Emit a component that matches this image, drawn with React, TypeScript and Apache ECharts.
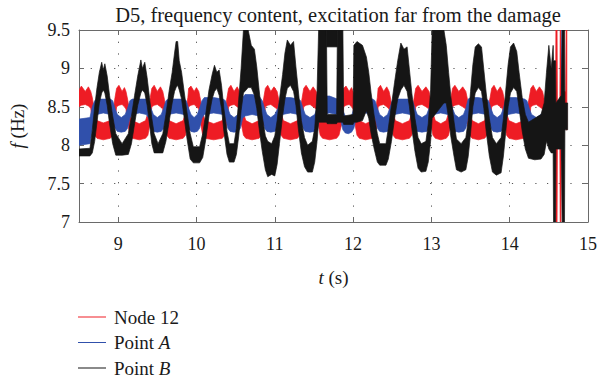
import React, { useEffect, useRef } from "react";
import * as echarts from "echarts";

const TITLE = "D5, frequency content, excitation far from the damage";
const X_MIN = 8.5;
const X_MAX = 15;
const Y_MIN = 7;
const Y_MAX = 9.5;
const Y_TICK = 0.5;

// Envelopes: [t (s), lower f (Hz), upper f (Hz)]
const node12: number[][] = [
  [8.5, 8.5, 8.72], [8.53, 8.52, 8.77], [8.58, 8.53, 8.7], [8.62, 8.51, 8.76], [8.65, 8.48, 8.7],
  [8.67, 8.3, 8.62], [8.7, 8.13, 8.42], [8.73, 8.09, 8.32], [8.81, 8.07, 8.29], [8.9, 8.09, 8.32],
  [8.93, 8.13, 8.42], [8.96, 8.3, 8.62],
  [8.98, 8.5, 8.74], [9.01, 8.52, 8.78], [9.05, 8.53, 8.7], [9.08, 8.5, 8.75], [9.1, 8.47, 8.7],
  [9.12, 8.3, 8.6], [9.15, 8.13, 8.42], [9.18, 8.09, 8.32], [9.27, 8.07, 8.28], [9.35, 8.09, 8.32],
  [9.38, 8.13, 8.42], [9.41, 8.3, 8.62],
  [9.43, 8.5, 8.74], [9.46, 8.52, 8.78], [9.5, 8.53, 8.7], [9.54, 8.5, 8.76], [9.57, 8.47, 8.7],
  [9.59, 8.3, 8.6], [9.62, 8.13, 8.42], [9.65, 8.09, 8.32], [9.74, 8.07, 8.28], [9.83, 8.09, 8.32],
  [9.86, 8.13, 8.42], [9.89, 8.3, 8.62],
  [9.9, 8.5, 8.74], [9.93, 8.52, 8.77], [9.97, 8.53, 8.7], [10.0, 8.5, 8.75], [10.03, 8.47, 8.7],
  [10.05, 8.3, 8.6], [10.08, 8.13, 8.42], [10.11, 8.09, 8.32], [10.22, 8.07, 8.28], [10.33, 8.09, 8.32],
  [10.36, 8.13, 8.42], [10.39, 8.3, 8.62],
  [10.41, 8.5, 8.74], [10.44, 8.52, 8.78], [10.48, 8.53, 8.7], [10.52, 8.5, 8.76], [10.55, 8.47, 8.7],
  [10.57, 8.3, 8.6], [10.6, 8.13, 8.42], [10.63, 8.09, 8.32], [10.71, 8.07, 8.28], [10.8, 8.09, 8.32],
  [10.83, 8.13, 8.42], [10.86, 8.3, 8.62],
  [10.88, 8.5, 8.74], [10.91, 8.52, 8.78], [10.95, 8.53, 8.7], [10.99, 8.5, 8.76], [11.03, 8.47, 8.7],
  [11.05, 8.3, 8.6], [11.08, 8.13, 8.42], [11.11, 8.09, 8.32], [11.2, 8.07, 8.28], [11.29, 8.09, 8.32],
  [11.32, 8.13, 8.42], [11.35, 8.3, 8.62],
  [11.37, 8.5, 8.74], [11.4, 8.52, 8.78], [11.45, 8.53, 8.7], [11.49, 8.5, 8.76], [11.53, 8.47, 8.7],
  [11.55, 8.3, 8.6], [11.58, 8.13, 8.42], [11.61, 8.09, 8.32], [11.7, 8.07, 8.28], [11.79, 8.09, 8.32],
  [11.82, 8.13, 8.42], [11.86, 8.3, 8.62],
  [11.88, 8.5, 8.74], [11.91, 8.52, 8.77], [11.95, 8.53, 8.7], [11.98, 8.5, 8.75], [12.0, 8.47, 8.7],
  [12.02, 8.3, 8.6], [12.05, 8.13, 8.42], [12.08, 8.09, 8.32], [12.16, 8.07, 8.28], [12.25, 8.09, 8.32],
  [12.28, 8.13, 8.42], [12.31, 8.3, 8.62],
  [12.32, 8.5, 8.74], [12.35, 8.52, 8.78], [12.39, 8.53, 8.7], [12.43, 8.5, 8.76], [12.46, 8.47, 8.7],
  [12.48, 8.3, 8.6], [12.51, 8.13, 8.42], [12.54, 8.09, 8.32], [12.63, 8.07, 8.28], [12.72, 8.09, 8.32],
  [12.75, 8.13, 8.42], [12.78, 8.3, 8.62],
  [12.8, 8.5, 8.74], [12.83, 8.52, 8.78], [12.88, 8.53, 8.7], [12.93, 8.5, 8.76], [12.97, 8.47, 8.7],
  [12.99, 8.3, 8.6], [13.02, 8.13, 8.42], [13.05, 8.09, 8.32], [13.12, 8.07, 8.28], [13.19, 8.09, 8.32],
  [13.22, 8.13, 8.42], [13.25, 8.3, 8.62],
  [13.27, 8.5, 8.74], [13.3, 8.52, 8.78], [13.35, 8.53, 8.7], [13.4, 8.5, 8.76], [13.44, 8.47, 8.7],
  [13.46, 8.3, 8.6], [13.49, 8.13, 8.42], [13.52, 8.09, 8.32], [13.6, 8.07, 8.28], [13.68, 8.09, 8.32],
  [13.71, 8.13, 8.42], [13.75, 8.3, 8.62],
  [13.77, 8.5, 8.74], [13.8, 8.52, 8.78], [13.84, 8.53, 8.7], [13.88, 8.5, 8.76], [13.91, 8.47, 8.7],
  [13.93, 8.3, 8.6], [13.96, 8.13, 8.42], [13.99, 8.09, 8.32], [14.08, 8.07, 8.28], [14.18, 8.09, 8.32],
  [14.21, 8.13, 8.42], [14.25, 8.3, 8.62],
  [14.27, 8.5, 8.74], [14.3, 8.52, 8.78], [14.34, 8.53, 8.7], [14.38, 8.5, 8.76], [14.42, 8.47, 8.7],
  [14.44, 8.3, 8.6], [14.47, 8.15, 8.4], [14.5, 8.15, 8.32], [14.56, 8.15, 8.35],
  [14.585, 8.15, 8.4], [14.59, 7.0, 9.5], [14.605, 7.0, 9.5], [14.61, 8.1, 8.5], [14.64, 8.1, 8.5],
  [14.645, 7.0, 9.5], [14.655, 7.0, 9.5], [14.66, 8.3, 8.7], [14.715, 8.3, 8.7], [14.72, 8.2, 9.5],
  [14.73, 8.2, 9.5],
];

const pointA: number[][] = [
  [8.5, 8.0, 8.34], [8.64, 8.02, 8.36], [8.67, 8.2, 8.5], [8.7, 8.35, 8.58], [8.73, 8.4, 8.6],
  [8.81, 8.42, 8.6], [8.9, 8.4, 8.6], [8.93, 8.35, 8.58], [8.96, 8.22, 8.48], [8.99, 8.18, 8.4],
  [9.04, 8.17, 8.36], [9.09, 8.18, 8.4], [9.12, 8.22, 8.48], [9.15, 8.35, 8.58], [9.18, 8.4, 8.6],
  [9.27, 8.42, 8.6], [9.36, 8.4, 8.6], [9.39, 8.35, 8.58], [9.42, 8.22, 8.48], [9.45, 8.18, 8.4],
  [9.5, 8.17, 8.36], [9.55, 8.18, 8.4], [9.58, 8.22, 8.48], [9.61, 8.35, 8.58], [9.64, 8.4, 8.6],
  [9.74, 8.42, 8.6], [9.84, 8.4, 8.6], [9.87, 8.35, 8.58], [9.9, 8.22, 8.48], [9.93, 8.18, 8.4],
  [9.97, 8.17, 8.36], [10.01, 8.18, 8.4], [10.04, 8.22, 8.48], [10.07, 8.35, 8.58], [10.1, 8.4, 8.62],
  [10.22, 8.42, 8.62], [10.34, 8.4, 8.6], [10.37, 8.35, 8.58], [10.4, 8.22, 8.48], [10.43, 8.18, 8.4],
  [10.48, 8.17, 8.36], [10.53, 8.18, 8.4], [10.56, 8.22, 8.48], [10.59, 8.35, 8.62], [10.62, 8.38, 8.66],
  [10.71, 8.4, 8.66], [10.8, 8.38, 8.64], [10.84, 8.35, 8.58], [10.87, 8.22, 8.48], [10.9, 8.18, 8.4],
  [10.95, 8.17, 8.36], [11.0, 8.18, 8.4], [11.04, 8.22, 8.48], [11.07, 8.35, 8.6], [11.1, 8.4, 8.62],
  [11.2, 8.42, 8.62], [11.3, 8.4, 8.6], [11.33, 8.35, 8.58], [11.36, 8.22, 8.48], [11.39, 8.18, 8.4],
  [11.45, 8.17, 8.36], [11.51, 8.18, 8.4], [11.54, 8.22, 8.48], [11.57, 8.35, 8.6], [11.6, 8.4, 8.64],
  [11.7, 8.42, 8.64], [11.8, 8.4, 8.6], [11.84, 8.33, 8.55], [11.87, 8.2, 8.45], [11.9, 8.16, 8.38],
  [11.94, 8.15, 8.34], [11.98, 8.17, 8.38], [12.01, 8.22, 8.48], [12.04, 8.35, 8.6], [12.07, 8.4, 8.62],
  [12.16, 8.42, 8.62], [12.25, 8.4, 8.6], [12.28, 8.35, 8.58], [12.31, 8.22, 8.48], [12.34, 8.18, 8.4],
  [12.39, 8.17, 8.36], [12.44, 8.18, 8.4], [12.47, 8.22, 8.48], [12.5, 8.35, 8.58], [12.53, 8.4, 8.6],
  [12.63, 8.42, 8.6], [12.73, 8.4, 8.6], [12.76, 8.35, 8.58], [12.79, 8.22, 8.48], [12.82, 8.18, 8.4],
  [12.88, 8.17, 8.36], [12.94, 8.18, 8.4], [12.97, 8.22, 8.48], [13.0, 8.35, 8.58], [13.03, 8.4, 8.6],
  [13.12, 8.42, 8.6], [13.21, 8.4, 8.6], [13.24, 8.35, 8.58], [13.27, 8.22, 8.48], [13.3, 8.18, 8.4],
  [13.35, 8.17, 8.36], [13.41, 8.18, 8.4], [13.44, 8.22, 8.48], [13.47, 8.35, 8.6], [13.5, 8.4, 8.62],
  [13.6, 8.42, 8.62], [13.7, 8.4, 8.6], [13.73, 8.35, 8.58], [13.76, 8.22, 8.48], [13.79, 8.18, 8.4],
  [13.84, 8.17, 8.36], [13.89, 8.18, 8.4], [13.92, 8.22, 8.48], [13.95, 8.35, 8.6], [13.98, 8.4, 8.62],
  [14.08, 8.42, 8.62], [14.19, 8.4, 8.6], [14.22, 8.35, 8.58], [14.25, 8.22, 8.48], [14.28, 8.18, 8.4],
  [14.34, 8.17, 8.36], [14.4, 8.2, 8.4], [14.44, 8.25, 8.45], [14.5, 8.3, 8.5], [14.55, 8.3, 8.5],
  [14.66, 8.3, 8.5], [14.665, 7.8, 9.5], [14.68, 7.8, 9.5], [14.685, 8.2, 8.5], [14.7, 8.2, 8.5],
];

const pointB: number[][] = [
  [8.5, 7.86, 7.95], [8.64, 7.86, 7.96], [8.67, 7.9, 8.2], [8.7, 8.05, 8.5], [8.73, 8.3, 8.75],
  [8.76, 8.55, 8.95], [8.79, 8.68, 9.08], [8.81, 8.72, 8.98], [8.83, 8.68, 9.06], [8.86, 8.52, 8.9],
  [8.89, 8.28, 8.65], [8.93, 8.02, 8.38], [8.97, 7.87, 8.15], [9.05, 7.87, 8.02], [9.13, 7.88, 8.15],
  [9.17, 8.02, 8.38], [9.21, 8.28, 8.65], [9.25, 8.52, 8.9], [9.29, 8.68, 9.11], [9.31, 8.72, 9.0],
  [9.34, 8.68, 9.08], [9.37, 8.52, 8.88], [9.4, 8.28, 8.62], [9.43, 8.02, 8.35], [9.46, 7.9, 8.15],
  [9.51, 7.9, 8.02], [9.57, 7.9, 8.15], [9.61, 8.05, 8.4], [9.65, 8.3, 8.7], [9.69, 8.55, 8.95],
  [9.72, 8.7, 9.2], [9.74, 8.75, 9.35], [9.76, 8.78, 9.35], [9.78, 8.72, 9.1], [9.81, 8.6, 8.95],
  [9.84, 8.38, 8.72], [9.88, 8.08, 8.42], [9.92, 7.82, 8.15], [9.96, 7.77, 7.98], [10.04, 7.77, 7.98],
  [10.08, 7.84, 8.15], [10.12, 8.08, 8.42], [10.16, 8.38, 8.72], [10.2, 8.6, 8.92], [10.23, 8.7, 9.04],
  [10.26, 8.74, 8.95], [10.29, 8.65, 8.98], [10.32, 8.48, 8.78], [10.35, 8.18, 8.48], [10.39, 7.88, 8.18],
  [10.42, 7.78, 8.02], [10.48, 7.78, 8.02], [10.51, 7.88, 8.22], [10.54, 8.12, 8.6], [10.57, 8.45, 9.0],
  [10.6, 8.68, 9.5], [10.66, 8.75, 9.5], [10.7, 8.75, 9.3], [10.74, 8.65, 9.25], [10.77, 8.48, 9.02],
  [10.8, 8.22, 8.72], [10.84, 7.92, 8.38], [10.88, 7.68, 8.12], [10.91, 7.59, 8.05], [10.96, 7.62, 8.02],
  [11.0, 7.6, 8.12], [11.03, 7.75, 8.32], [11.06, 8.02, 8.6], [11.1, 8.38, 8.92], [11.13, 8.6, 9.2],
  [11.16, 8.74, 9.37], [11.2, 8.78, 9.3], [11.24, 8.7, 9.35], [11.27, 8.52, 9.02], [11.3, 8.22, 8.72],
  [11.34, 7.9, 8.32], [11.38, 7.72, 8.1], [11.42, 7.65, 8.0], [11.48, 7.65, 8.05], [11.51, 7.78, 8.22],
  [11.54, 8.05, 8.7], [11.56, 8.3, 9.5], [11.66, 8.3, 9.5], [11.67, 8.28, 8.4], [11.79, 8.28, 8.4],
  [11.8, 8.3, 9.5], [11.87, 8.3, 9.5], [11.88, 8.27, 8.38], [12.0, 8.27, 8.4], [12.01, 8.3, 9.3],
  [12.05, 8.3, 9.35], [12.12, 8.32, 9.3], [12.17, 8.45, 9.15], [12.2, 8.35, 8.95], [12.23, 8.15, 8.68],
  [12.27, 7.95, 8.38], [12.31, 7.78, 8.15], [12.34, 7.74, 8.02], [12.42, 7.74, 8.02], [12.45, 7.82, 8.22],
  [12.49, 8.05, 8.52], [12.53, 8.35, 8.82], [12.57, 8.6, 9.1], [12.61, 8.72, 9.33], [12.65, 8.78, 9.25],
  [12.69, 8.7, 9.28], [12.72, 8.5, 8.98], [12.75, 8.22, 8.68], [12.79, 7.92, 8.35], [12.83, 7.7, 8.1],
  [12.87, 7.65, 8.02], [12.93, 7.66, 8.05], [12.96, 7.78, 8.28], [12.99, 8.05, 8.72], [13.01, 8.35, 9.5],
  [13.16, 8.55, 9.5], [13.19, 8.55, 9.3], [13.22, 8.35, 8.95], [13.25, 8.1, 8.62], [13.29, 7.85, 8.3],
  [13.32, 7.68, 8.08], [13.38, 7.65, 8.02], [13.44, 7.68, 8.1], [13.47, 7.85, 8.32], [13.5, 8.15, 8.7],
  [13.53, 8.5, 9.05], [13.56, 8.68, 9.28], [13.6, 8.75, 9.32], [13.64, 8.7, 9.28], [13.67, 8.48, 8.98],
  [13.7, 8.18, 8.68], [13.74, 7.86, 8.35], [13.78, 7.65, 8.1], [13.83, 7.61, 8.02], [13.89, 7.64, 8.1],
  [13.92, 7.86, 8.35], [13.95, 8.18, 8.72], [13.98, 8.5, 9.05], [14.01, 8.68, 9.28], [14.05, 8.75, 9.33],
  [14.09, 8.7, 9.22], [14.12, 8.48, 8.95], [14.16, 8.18, 8.62], [14.2, 7.95, 8.4], [14.24, 7.83, 8.3],
  [14.32, 7.81, 8.35], [14.4, 7.82, 8.4], [14.44, 7.88, 8.55], [14.47, 8.05, 8.95], [14.5, 7.95, 9.3],
  [14.53, 7.9, 9.0], [14.555, 7.9, 9.3], [14.56, 7.0, 9.1], [14.585, 7.0, 9.1], [14.59, 7.95, 8.55],
  [14.66, 7.95, 8.65], [14.67, 7.0, 9.5], [14.7, 7.0, 9.5], [14.705, 8.2, 8.55], [14.74, 8.2, 8.55],
];

// upper bar of Point B near t = 11.7 s (separate from the main envelope)
const pointBTop: number[][] = [
  [11.66, 9.28, 9.5], [11.8, 9.28, 9.5],
];

const SERIES = [
  { name: "Node 12", color: "#ee1c24", bands: [node12] },
  { name: "Point A", color: "#3050ab", bands: [pointA] },
  { name: "Point B", color: "#151515", bands: [pointB, pointBTop] },
];

const FONT = "'Liberation Serif', 'DejaVu Serif', serif";
const TEXT = "#1a1a1a";

function makeRender(bands: number[][][]) {
  return (params: any, api: any) => {
    if (params.dataIndex !== 0) return null;
    const color = api.visual("color");
    const children = bands.map((band) => {
      const pts: number[][] = [];
      for (let i = 0; i < band.length; i++) pts.push(api.coord([band[i][0], band[i][1]]));
      for (let i = band.length - 1; i >= 0; i--) pts.push(api.coord([band[i][0], band[i][2]]));
      return {
        type: "polygon",
        shape: { points: pts },
        style: { fill: color, stroke: color, lineWidth: 0.7 },
      };
    });
    return { type: "group", children };
  };
}

export default function App() {
  const ref = useRef<HTMLDivElement>(null);

  useEffect(() => {
    if (!ref.current) return;
    const chart = echarts.init(ref.current, undefined, { renderer: "svg" });
    const axisLineStyle = { color: "#6a6a6a", width: 1 };
    const gridDots = { color: "#555", width: 1, type: [1.2, 10.5] };
    const option: any = {
      animation: false,
      backgroundColor: "#ffffff",
      title: {
        text: TITLE,
        left: 333,
        top: -1,
        textAlign: "center",
        textStyle: { fontFamily: FONT, fontSize: 20.5, fontWeight: "normal", color: TEXT },
      },
      grid: { left: 78, right: 11, top: 30, bottom: 161 },
      legend: {
        orient: "vertical",
        left: 78,
        top: 307,
        padding: 0,
        itemWidth: 28,
        itemHeight: 1,
        itemGap: 5.5,
        icon: "rect",
        itemStyle: { borderWidth: 0, borderColor: "transparent" },
        data: SERIES.map((s) => s.name),
        formatter: (name: string) => {
          if (name === "Point A") return "Point {i|A}";
          if (name === "Point B") return "Point {i|B}";
          return name;
        },
        textStyle: {
          fontFamily: FONT,
          fontSize: 19,
          color: TEXT,
          lineHeight: 20,
          padding: [0, 0, 0, 3],
          rich: { i: { fontFamily: FONT, fontSize: 19, fontStyle: "italic", color: TEXT, lineHeight: 20 } },
        },
      },
      xAxis: [
        {
          type: "value",
          min: X_MIN,
          max: X_MAX,
          splitNumber: 6,
          position: "bottom",
          name: "{i|t} (s)",
          nameLocation: "middle",
          nameGap: 46,
          nameTextStyle: {
            fontFamily: FONT,
            fontSize: 19,
            color: TEXT,
            rich: { i: { fontFamily: FONT, fontSize: 19, fontStyle: "italic", color: TEXT } },
          },
          axisLine: { show: true, onZero: false, lineStyle: axisLineStyle },
          axisTick: { show: true, inside: true, length: 5, lineStyle: axisLineStyle },
          axisLabel: { showMinLabel: false, margin: 13, fontFamily: FONT, fontSize: 18, color: TEXT },
          splitLine: { show: true, lineStyle: gridDots },
        },
        {
          type: "value",
          min: X_MIN,
          max: X_MAX,
          splitNumber: 6,
          position: "top",
          axisLine: { show: true, onZero: false, lineStyle: axisLineStyle },
          axisTick: { show: true, inside: true, length: 5, lineStyle: axisLineStyle },
          axisLabel: { show: false },
          splitLine: { show: false },
        },
      ],
      yAxis: [
        {
          type: "value",
          min: Y_MIN,
          max: Y_MAX,
          interval: Y_TICK,
          position: "left",
          name: "{i|f} (Hz)",
          nameLocation: "middle",
          nameGap: 52,
          nameTextStyle: {
            fontFamily: FONT,
            fontSize: 19,
            color: TEXT,
            rich: { i: { fontFamily: FONT, fontSize: 19, fontStyle: "italic", color: TEXT } },
          },
          axisLine: { show: true, onZero: false, lineStyle: axisLineStyle },
          axisTick: { show: true, inside: true, length: 5, lineStyle: axisLineStyle },
          axisLabel: { margin: 9, fontFamily: FONT, fontSize: 18, color: TEXT },
          splitLine: { show: true, lineStyle: gridDots },
        },
        {
          type: "value",
          min: Y_MIN,
          max: Y_MAX,
          interval: Y_TICK,
          position: "right",
          axisLine: { show: true, onZero: false, lineStyle: axisLineStyle },
          axisTick: { show: true, inside: true, length: 5, lineStyle: axisLineStyle },
          axisLabel: { show: false },
          splitLine: { show: false },
        },
      ],
      series: SERIES.map((s) => ({
        type: "custom",
        name: s.name,
        xAxisIndex: 0,
        yAxisIndex: 0,
        clip: true,
        itemStyle: { color: s.color },
        encode: { x: 0, y: [1, 2] },
        data: s.bands[0],
        renderItem: makeRender(s.bands),
      })),
    };
    chart.setOption(option);
    return () => chart.dispose();
  }, []);

  return (
    <div
      ref={ref}
      style={{ position: "fixed", left: 0, top: 0, width: 600, height: 383, background: "#fff" }}
    />
  );
}
